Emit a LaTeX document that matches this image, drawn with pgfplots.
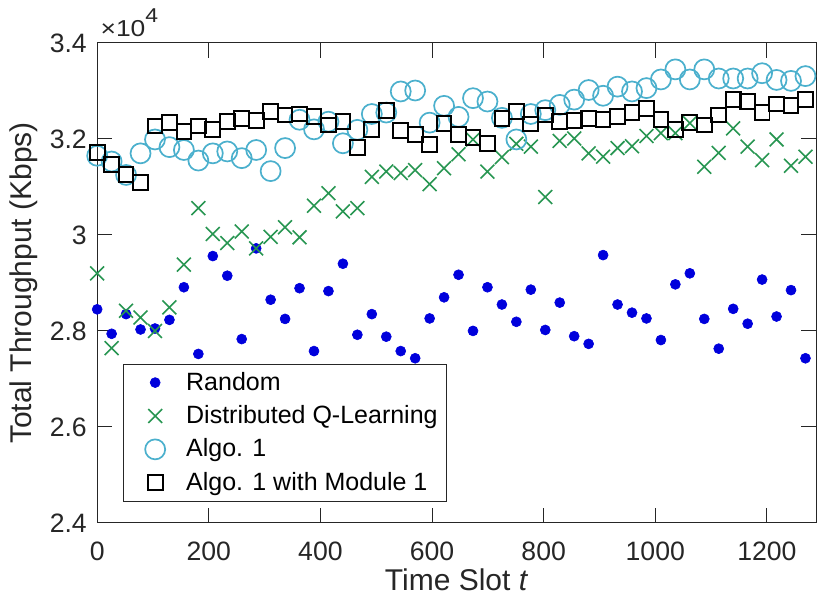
\documentclass[border=0pt]{standalone}
\usepackage{pgfplots}
\pgfplotsset{compat=1.18}
\usepackage{pgfplotstable}
\usepackage{fontspec}
\setmainfont{Liberation Sans}
\definecolor{rndblue}{RGB}{0,0,220}
\definecolor{dqlgreen}{RGB}{40,150,82}
\definecolor{algcyan}{RGB}{75,176,205}
\definecolor{axgray}{RGB}{38,38,38}

\pgfplotstableread{
t rnd dql alg mod
0 2.845 2.920 3.165 3.172
25.9 2.794 2.764 3.153 3.146
51.8 2.835 2.842 3.125 3.126
77.7 2.803 2.828 3.170 3.109
103.6 2.805 2.800 3.199 3.227
129.5 2.823 2.849 3.183 3.234
155.4 2.891 2.938 3.177 3.215
181.3 2.752 3.056 3.155 3.227
207.2 2.956 3.002 3.170 3.219
233.1 2.915 2.983 3.174 3.236
259 2.783 3.007 3.160 3.242
284.9 2.972 2.972 3.177 3.238
310.8 2.865 2.996 3.133 3.257
336.7 2.825 3.016 3.181 3.250
362.6 2.889 2.995 3.240 3.252
388.5 2.758 3.061 3.220 3.246
414.4 2.883 3.087 3.236 3.229
440.3 2.940 3.049 3.191 3.236
466.2 2.792 3.056 3.219 3.183
492.1 2.835 3.121 3.252 3.219
518 2.788 3.132 3.255 3.260
543.9 2.758 3.129 3.299 3.217
569.8 2.743 3.135 3.301 3.210
595.7 2.826 3.106 3.234 3.189
621.6 2.870 3.139 3.269 3.233
647.5 2.917 3.168 3.246 3.210
673.4 2.800 3.199 3.285 3.203
699.3 2.891 3.132 3.278 3.191
725.2 2.855 3.162 3.244 3.242
751.1 2.819 3.190 3.199 3.257
777 2.886 3.184 3.252 3.231
802.9 2.802 3.079 3.260 3.250
828.8 2.859 3.196 3.271 3.236
854.7 2.789 3.201 3.282 3.238
880.6 2.773 3.170 3.302 3.242
906.5 2.958 3.163 3.290 3.240
932.4 2.855 3.181 3.309 3.246
958.3 2.838 3.185 3.299 3.255
984.2 2.826 3.206 3.306 3.264
1010.1 2.781 3.212 3.324 3.240
1036 2.897 3.212 3.345 3.220
1061.9 2.920 3.233 3.324 3.234
1087.8 2.825 3.142 3.345 3.229
1113.7 2.763 3.171 3.326 3.250
1139.6 2.846 3.222 3.326 3.283
1165.5 2.815 3.184 3.326 3.278
1191.4 2.907 3.156 3.337 3.255
1217.3 2.830 3.199 3.323 3.273
1243.2 2.885 3.144 3.321 3.269
1269.1 2.743 3.163 3.331 3.283
}\datatable

\begin{document}
\begin{tikzpicture}
\path[use as bounding box] (-48.6pt,-40pt) rectangle (360pt,261.5pt);
\begin{axis}[
  scale only axis,
  width=359.5pt, height=240pt,
  at={(0,0)}, anchor=south west,
  xmin=0, xmax=1288, ymin=2.4, ymax=3.4,
  xtick={0,200,400,600,800,1000,1200},
  ytick={2.4,2.6,2.8,3,3.2,3.4},
  /pgf/number format/1000 sep={},
  /pgf/number format/assume math mode=true,
  tick align=inside, tick pos=both,
  xticklabel pos=lower, yticklabel pos=left,
  major tick length=7.5pt,
  axis line style={axgray, line width=0.5pt},
  tick style={axgray, line width=0.5pt},
  ticklabel style={font=\fontsize{13.3}{16}\selectfont, text=axgray},
  xticklabel style={inner sep=0pt, yshift=-9.3pt},
  yticklabel style={inner sep=0pt, xshift=-5pt},
  label style={font=\fontsize{15}{18}\selectfont, text=axgray},
  xlabel={Time Slot \textit{t}},
  ylabel={Total Throughput (Kbps)},
  xlabel style={at={(rel axis cs:0.5,0)}, anchor=center, yshift=-28.5pt},
  ylabel style={at={(rel axis cs:0,0.5)}, anchor=center, yshift=36.5pt},
  clip=false,
  legend cell align=left,
  legend style={at={(rel axis cs:0.0366,0.0444)}, anchor=south west,
    font=\fontsize{12.5}{15}\selectfont, draw=axgray, line width=0.5pt,
    inner xsep=4.6pt, inner ysep=2.4pt, row sep=3.2pt, column sep=4.5pt,
    nodes={inner sep=0pt, text height=10.5pt, text depth=3pt}},
  legend image code/.code={\path[draw=none, fill=none] (0pt,-2pt) rectangle (22pt,2pt); \draw[#1] plot coordinates {(11pt,0pt)};},
]
\addplot[only marks, mark=*, mark size=2.5pt, draw=rndblue, fill=rndblue, line width=0.3pt] table[x=t,y=rnd]{\datatable};
\addlegendentry{Random}
\addplot[only marks, mark=x, mark size=4.9pt, draw=dqlgreen, line width=0.8pt] table[x=t,y=dql]{\datatable};
\addlegendentry{Distributed Q-Learning}
\addplot[only marks, mark=o, mark size=5pt, draw=algcyan, line width=0.85pt] table[x=t,y=alg]{\datatable};
\addlegendentry{Algo. 1}
\addplot[only marks, mark=square, mark size=3.7pt, draw=black, line width=1pt] table[x=t,y=mod]{\datatable};
\addlegendentry{Algo. 1 with Module 1}
\node[anchor=base west, inner sep=0pt, font=\fontsize{11.5}{14}\selectfont, text=axgray] at (rel axis cs:0,1) [xshift=1.5pt, yshift=3pt] {\scalebox{1.15}[1]{×10\raisebox{7pt}{\fontsize{10}{12}\selectfont 4}}};
\end{axis}
\end{tikzpicture}
\end{document}
